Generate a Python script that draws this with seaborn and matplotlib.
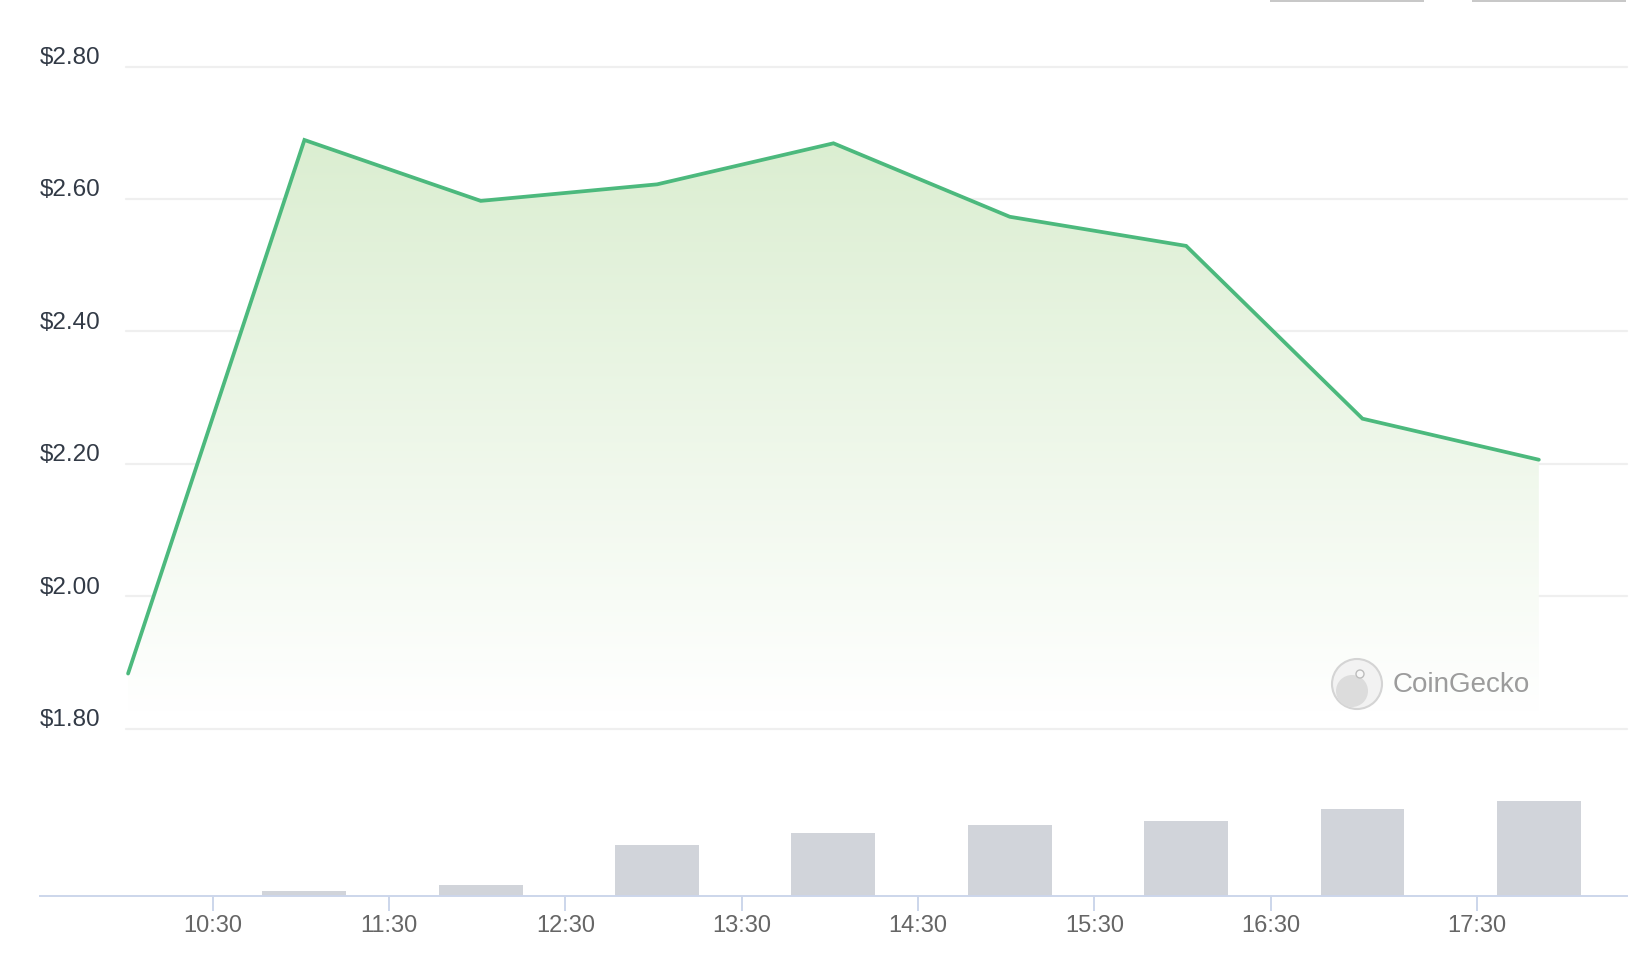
import numpy as np
import pandas as pd
import matplotlib
matplotlib.use("Agg")
import matplotlib.pyplot as plt
import matplotlib.transforms as mtransforms
from matplotlib.patches import Circle, Rectangle
import seaborn as sns

# saatlik fiyat ve hacim (saat, ondalık)
times = [10.02, 11.02, 12.02, 13.02, 14.02, 15.02, 16.02, 17.02, 18.02]
prices = [1.883, 2.689, 2.597, 2.622, 2.684, 2.573, 2.529, 2.268, 2.206]
volumes = [0.0, 0.43, 0.95, 4.8, 5.9, 6.7, 7.1, 8.2, 9.0]

price_ticks = [1.80, 2.00, 2.20, 2.40, 2.60, 2.80]
time_ticks = [10.5, 11.5, 12.5, 13.5, 14.5, 15.5, 16.5, 17.67]
time_labels = ["10:30", "11:30", "12:30", "13:30", "14:30", "15:30", "16:30", "17:30"]

df = pd.DataFrame({"time": times, "price": prices, "volume": volumes})

sns.set_theme(style="white")
plt.rcParams["font.family"] = ["Liberation Sans", "DejaVu Sans"]

W, H = 1648, 954
fig = plt.figure(figsize=(W / 100, H / 100), dpi=100)

x_left, x_right = 39.9, 1627
ax = fig.add_axes([x_left / W, 1 - 729.5 / H, (x_right - x_left) / W, (729.5 - 67.5) / H])
axv = fig.add_axes([x_left / W, 1 - 896.5 / H, (x_right - x_left) / W, (896.5 - 741) / H])

xlim = (9.52, 18.52)
line_color = "#4cb97d"

# fiyat grafiği
ax.set_xlim(xlim)
ax.set_ylim(1.80, 2.80)
grid_start = (126 - x_left) / (x_right - x_left)
for v in price_ticks:
    ax.axhline(v, xmin=grid_start, xmax=1, color="#efefef", lw=1.6, zorder=0, clip_on=False)
    ax.annotate(f"${v:.2f}", xy=(0, v), xycoords=mtransforms.blended_transform_factory(ax.transAxes, ax.transData),
                xytext=(0, 2.5), textcoords="offset points", ha="left", va="baseline",
                fontsize=17.5, color="#323a46")

# gradyan dolgu
floor = 1.825
poly = ax.fill_between(df["time"], df["price"], floor, facecolor="none", edgecolor="none")
top_rgb = np.array([219, 238, 209]) / 255
frac = np.linspace(0, 1, 256).reshape(-1, 1, 1)
img = np.ones((256, 1, 3)) * (1 - frac) + top_rgb * frac
im = ax.imshow(img, origin="lower", aspect="auto", zorder=1,
               extent=[times[0], times[-1], floor, max(prices)])
im.set_clip_path(poly.get_paths()[0], transform=ax.transData)

sns.lineplot(data=df, x="time", y="price", ax=ax, color=line_color, lw=2.7, zorder=3,
             solid_joinstyle="miter", solid_capstyle="round")
ax.set_xlim(xlim)
ax.set_ylim(1.80, 2.80)
ax.set_xticks([])
ax.set_yticks([])
ax.set_xlabel("")
ax.set_ylabel("")
for s in ax.spines.values():
    s.set_visible(False)
ax.patch.set_alpha(0)

# hacim çubukları
sns.barplot(data=df, x="time", y="volume", ax=axv, native_scale=True, width=0.476,
            color="#d1d4da", saturation=1, errorbar=None, linewidth=0)
axv.set_xlim(xlim)
axv.set_ylim(0, 14.77)
axv.set_yticks([])
axv.set_xticks(time_ticks)
axv.set_xticklabels(time_labels)
axv.tick_params(axis="x", length=11, width=1.4, color="#ccd6eb", pad=2,
                labelsize=17, labelcolor="#666666", bottom=True)
axv.set_xlabel("")
axv.set_ylabel("")
for k, s in axv.spines.items():
    s.set_visible(k == "bottom")
axv.spines["bottom"].set_color("#ccd6eb")
axv.spines["bottom"].set_linewidth(1.4)
axv.patch.set_alpha(0)

# CoinGecko filigranı
fig.add_artist(Circle((1357, H - 685), 25, transform=None, facecolor="#f2f2f2",
                      edgecolor="#d4d4d4", lw=1.5, zorder=5))
fig.add_artist(Circle((1352, H - 692), 16, transform=None, facecolor="#dcdcdc",
                      edgecolor="none", zorder=5))
fig.add_artist(Circle((1360, H - 675), 4, transform=None, facecolor="#f7f7f7",
                      edgecolor="#bdbdbd", lw=1, zorder=6))
fig.text(1393 / W, 1 - 685 / H, "CoinGecko", fontsize=20, color="#9c9c9c",
         ha="left", va="center", zorder=6)

# üstteki kesilmiş düğmeler
for x0, x1 in [(1270, 1424), (1472, 1626)]:
    fig.add_artist(Rectangle((x0 / W, 1 - 2.5 / H), (x1 - x0) / W, 2.5 / H,
                             transform=fig.transFigure, facecolor="#c8c8c8", edgecolor="none"))

fig.savefig("out.png", dpi=100, facecolor="white")
